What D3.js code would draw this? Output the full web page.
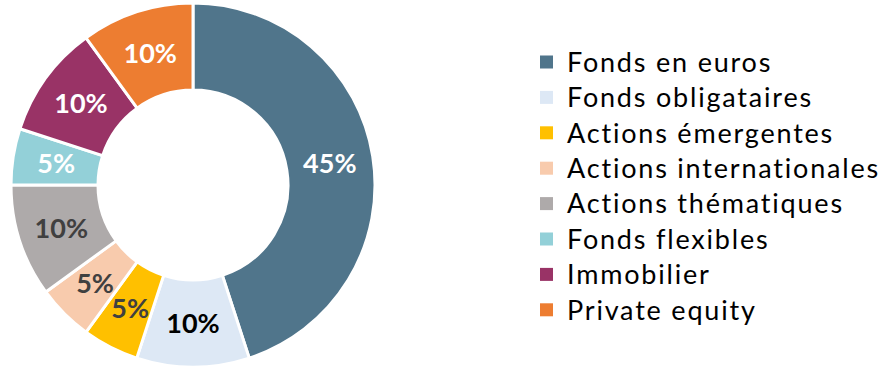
<!DOCTYPE html>
<html>
<head>
  <script src="https://d3js.org/d3.v7.min.js"></script>
  <style>
    body { margin: 0; background: #fff; }
    svg { display: block; }
    .slice-label { font-family: Lato, "Open Sans", sans-serif; font-weight: bold; font-size: 27px; }
    .legend text { font-family: Lato, "Open Sans", sans-serif; font-size: 27px; letter-spacing: 1.8px; fill: #000; }
  </style>
</head>
<body>
  <div id="chart"></div>
  <script>
    // chart data
    var categories = ["Fonds en euros", "Fonds obligataires", "Actions émergentes", "Actions internationales",
                      "Actions thématiques", "Fonds flexibles", "Immobilier", "Private equity"];
    var values = [45, 10, 5, 5, 10, 5, 10, 10];
    var colors = ["#50758b", "#dde8f5", "#ffc000", "#f8cbad", "#aeaaaa", "#93d0d8", "#993366", "#ed7d31"];
    var labelColors = ["#fff", "#000", "#404040", "#404040", "#404040", "#fff", "#fff", "#fff"];

    var w = 891;
    var h = 371;
    var cx = 193, cy = 185;
    var outerR = 182, innerR = 95;

    var data = categories.map((c, i) => ({ name: c, value: values[i], color: colors[i], labelColor: labelColors[i] }));

    var svg = d3.select("#chart").append("svg")
      .attr("width", w)
      .attr("height", h);

    var pie = d3.pie().value(d => d.value).sort(null);
    var arc = d3.arc().innerRadius(innerR).outerRadius(outerR);
    var arcs = pie(data);

    var g = svg.append("g").attr("transform", `translate(${cx},${cy})`);

    g.selectAll("path").data(arcs).enter().append("path")
      .attr("d", arc)
      .attr("fill", d => d.data.color)
      .attr("stroke", "#fff")
      .attr("stroke-width", 3)
      .attr("stroke-linejoin", "round");

    g.selectAll(".slice-label").data(arcs).enter().append("text")
      .attr("class", "slice-label")
      .attr("transform", d => `translate(${arc.centroid(d)})`)
      .attr("text-anchor", "middle")
      .attr("dy", "0.36em")
      .attr("fill", d => d.data.labelColor)
      .text(d => d.data.value + "%");

    // legend
    var legendX = 540, legendY = 62, rowH = 35.4;
    var legend = svg.append("g").attr("class", "legend");
    var rows = legend.selectAll("g").data(data).enter().append("g")
      .attr("transform", (d, i) => `translate(${legendX},${legendY + i * rowH})`);

    rows.append("rect")
      .attr("x", 0)
      .attr("y", -6.5)
      .attr("width", 13)
      .attr("height", 13)
      .attr("fill", d => d.color);

    rows.append("text")
      .attr("x", 27)
      .attr("dy", "0.36em")
      .text(d => d.name);
  </script>
</body>
</html>
